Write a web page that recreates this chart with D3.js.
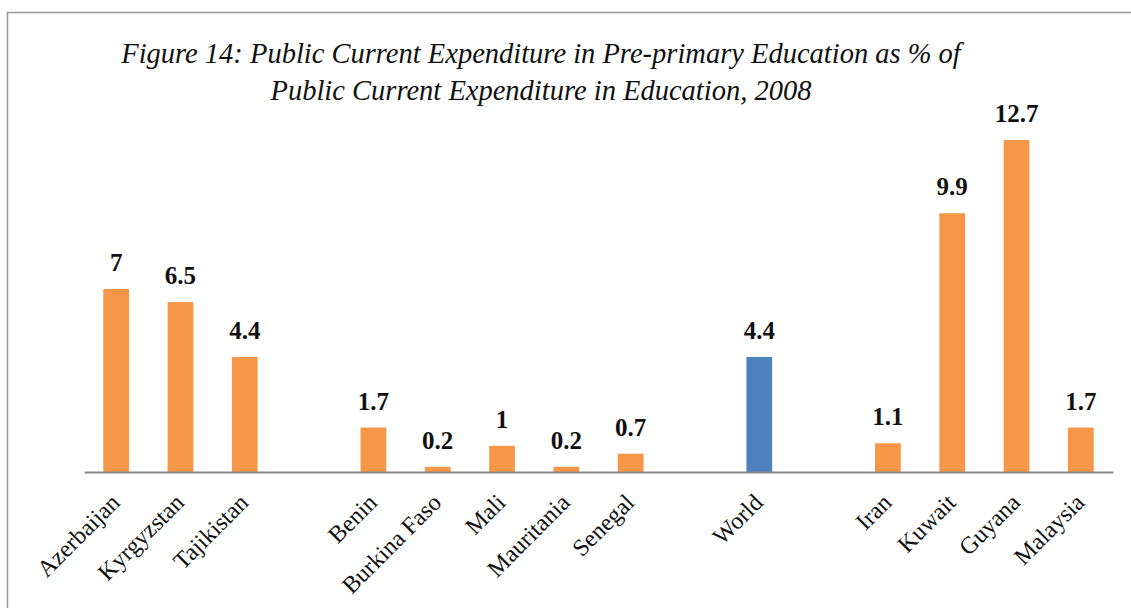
<!DOCTYPE html>
<html>
<head>
<meta charset="utf-8">
<script src="https://cdn.jsdelivr.net/npm/d3@7"></script>
<style>
    body { margin: 0; background: #fff; }
    svg { display: block; }
</style>
</head>
<body>
<div id="chart"></div>
<script>
// gaps in the chart are empty slots (unique blank keys)
const categories = ['Azerbaijan', 'Kyrgyzstan', 'Tajikistan', ' ', 'Benin', 'Burkina Faso', 'Mali',
    'Mauritania', 'Senegal', '  ', 'World', '   ', 'Iran', 'Kuwait', 'Guyana', 'Malaysia'];
const values = [7, 6.5, 4.4, null, 1.7, 0.2, 1, 0.2, 0.7, null, 4.4, null, 1.1, 9.9, 12.7, 1.7];
const highlight = ['World'];
const titleLines = ['Figure 14: Public Current Expenditure in Pre-primary Education as % of',
    'Public Current Expenditure in Education, 2008'];

const width = 1131, height = 608;
const serif = '"Liberation Serif", "Times New Roman", serif';
const svg = d3.select('#chart').append('svg').attr('width', width).attr('height', height);

// frame
svg.append('path')
    .attr('d', `M7.5,${height} V12.5 H${width}`)
    .style('fill', 'none')
    .style('stroke', '#999')
    .style('stroke-width', '1.5px');

const title = svg.append('text')
    .attr('text-anchor', 'middle')
    .style('font-family', serif)
    .style('font-style', 'italic')
    .style('font-size', '28.5px')
    .style('fill', '#111');
title.selectAll('tspan')
    .data(titleLines)
    .enter().append('tspan')
    .attr('x', 541)
    .attr('y', (d, i) => 63 + i * 37)
    .text(d => d);

const baseline = 472;
const x = d3.scaleBand().domain(categories).range([84, 1113]).paddingInner(0.6).paddingOuter(0.3);
const y = d3.scaleLinear().domain([0, 12.7]).range([baseline, 140]);

const data = categories.map((c, i) => ({ name: c, value: values[i] })).filter(d => d.value !== null);

svg.selectAll('.bar')
    .data(data)
    .enter().append('rect')
    .attr('class', 'bar')
    .attr('x', d => x(d.name))
    .attr('y', d => y(d.value))
    .attr('width', x.bandwidth())
    .attr('height', d => baseline - y(d.value))
    .style('fill', d => highlight.includes(d.name) ? '#4F81BD' : '#F79646');

svg.selectAll('.val')
    .data(data)
    .enter().append('text')
    .attr('class', 'val')
    .attr('x', d => x(d.name) + x.bandwidth() / 2)
    .attr('y', d => y(d.value) - 18)
    .attr('text-anchor', 'middle')
    .style('font-family', serif)
    .style('font-weight', 'bold')
    .style('font-size', '25px')
    .style('fill', '#111')
    .text(d => d.value);

const xAxis = svg.append('g')
    .attr('transform', `translate(0,${baseline})`)
    .call(d3.axisBottom(x).tickSize(0).tickPadding(0));
xAxis.select('.domain').style('stroke', '#888').style('stroke-width', '2px');
xAxis.selectAll('text')
    .attr('x', 0).attr('y', 0).attr('dy', 0)
    .attr('text-anchor', 'end')
    .attr('transform', 'translate(5,32) rotate(-45)')
    .style('font-family', serif)
    .style('font-size', '24px')
    .style('fill', '#111');
</script>
</body>
</html>
